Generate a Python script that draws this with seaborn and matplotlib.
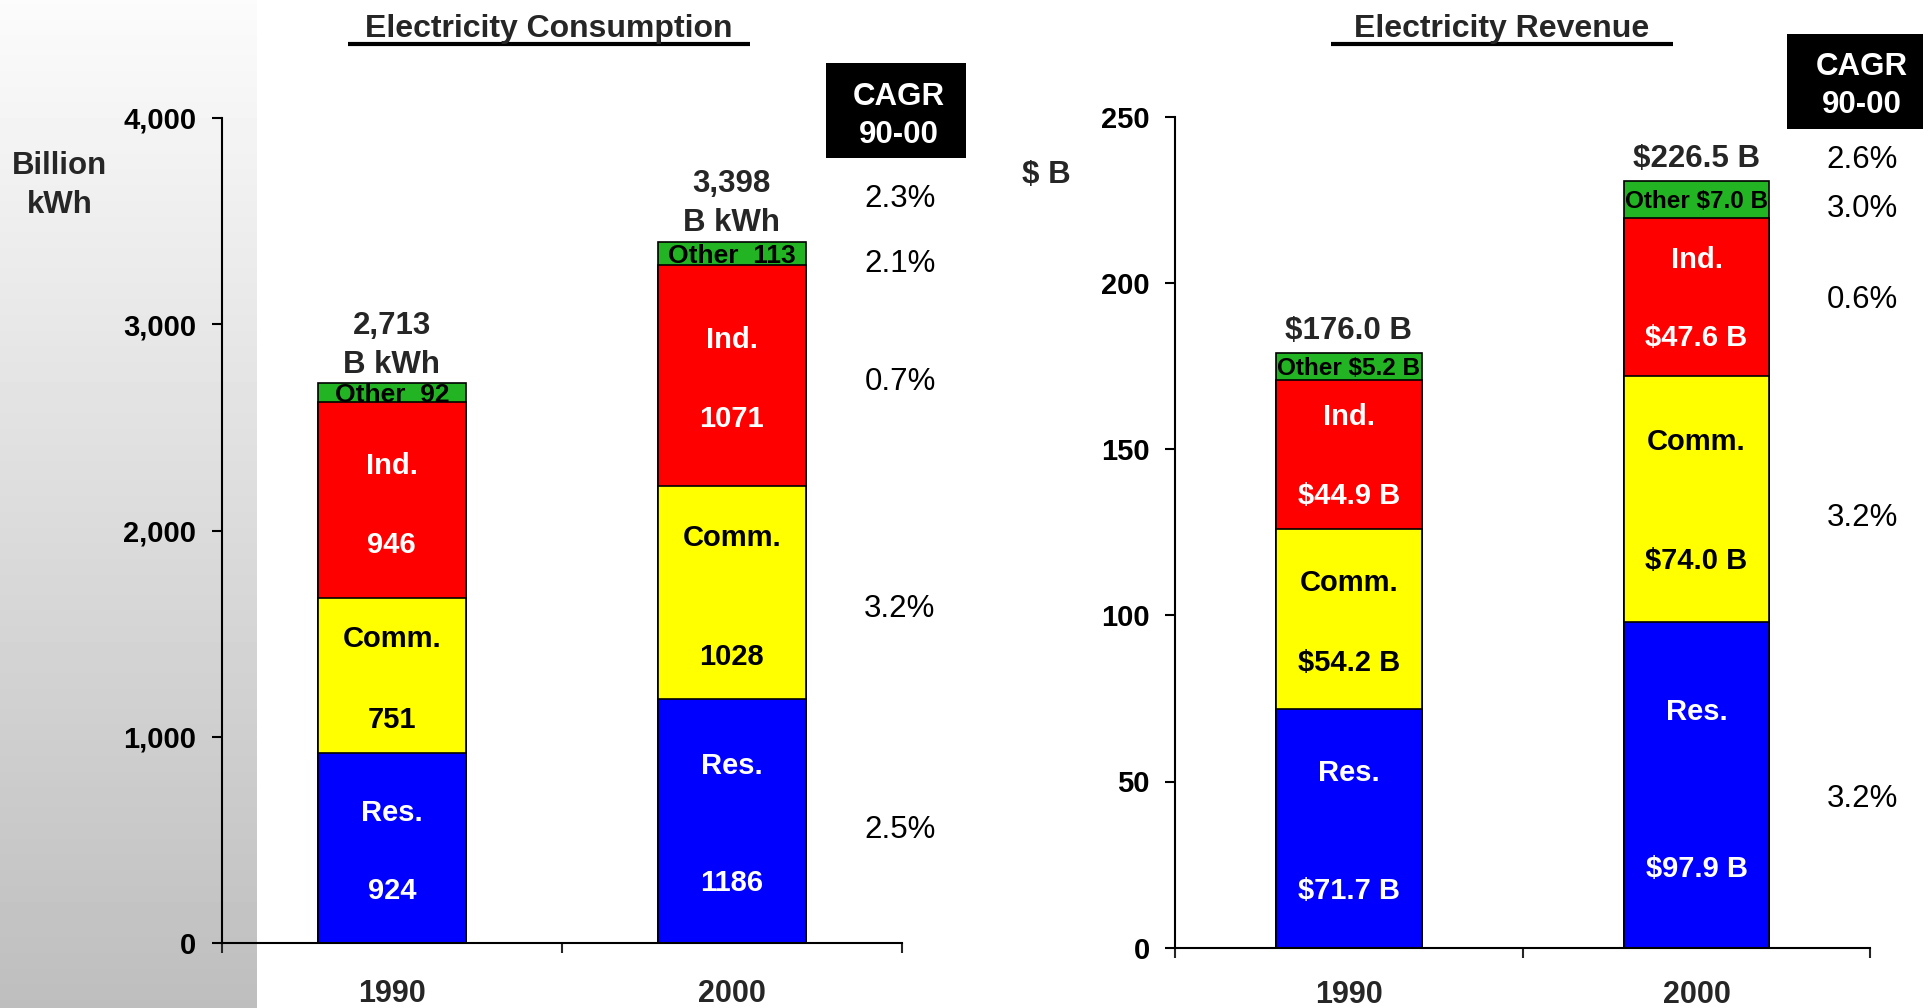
import numpy as np
import pandas as pd
import matplotlib
matplotlib.use("Agg")
import matplotlib.pyplot as plt
import seaborn as sns
from matplotlib.patches import Rectangle
from matplotlib.lines import Line2D
from matplotlib.ticker import FuncFormatter, FixedLocator

# ---------------- data ----------------
years = ["1990", "2000"]
seg_names = ["Res.", "Comm.", "Ind.", "Other"]

cons_res = [924, 1186]
cons_comm = [751, 1028]
cons_ind = [946, 1071]
cons_other = [92, 113]
cons_totals = ["2,713", "3,398"]
cons_cagr = ["2.5%", "3.2%", "0.7%", "2.1%", "2.3%"]
cons_ticks = [0, 1000, 2000, 3000, 4000]

rev_res = [71.7, 97.9]
rev_comm = [54.2, 74.0]
rev_ind = [44.9, 47.6]
rev_other = [5.2, 7.0]          # labelled values
rev_other_bar = [8.2, 11.2]     # height of the green segment as drawn in the picture
rev_totals = ["$176.0 B", "$226.5 B"]
rev_cagr = ["3.2%", "3.2%", "0.6%", "3.0%", "2.6%"]
rev_ticks = [0, 50, 100, 150, 200, 250]

# ---------------- layout (label placement within segments: [year][segment] = (name, value) fractions) ----------------
cons_label_frac = [[(0.70, 0.29), (0.75, 0.23), (0.69, 0.285)],
                   [(0.735, 0.26), (0.77, 0.21), (0.675, 0.32)]]
rev_label_frac = [[(0.746, 0.25), (0.72, 0.275), (0.77, 0.24)],
                  [(0.735, 0.25), (0.745, 0.26), (0.756, 0.26)]]
cons_cagr_y = [565, 1638, 2736, 3309, 3624]
rev_cagr_y = [45.9, 130.2, 196.0, 223.4, 238.0]

# ---------------- style ----------------
sns.set_style("white")
plt.rcParams['font.family'] = ['Liberation Sans', 'DejaVu Sans']

W, H = 1929, 1008
fig = plt.figure(figsize=(W / 100, H / 100), dpi=100, facecolor="white")

def fx(x):
    return x / W

def fy(y):
    return 1 - y / H

colors = ["#0000FF", "#FFFF00", "#FF0000", "#22B422"]
text_colors = ["white", "black", "white", "black"]

# gradient panel on the left
bg = fig.add_axes([0, 0, fx(257), 1], zorder=-5)
grad = np.linspace(0.985, 0.745, 256).reshape(-1, 1)
bg.imshow(grad, cmap="gray", vmin=0, vmax=1, aspect="auto", extent=[0, 1, 0, 1])
bg.set_axis_off()

axL = fig.add_axes([fx(221.7), fy(943.3), fx(902) - fx(221.7), fy(117.7) - fy(943.3)])
axR = fig.add_axes([fx(1175.1), fy(947.7), fx(1870.4) - fx(1175.1), fy(116.7) - fy(947.7)])


def draw_stack(ax, layers, width):
    arr = np.array(layers, dtype=float)
    cum = np.cumsum(arr, axis=0)
    for k in range(len(layers) - 1, -1, -1):
        df = pd.DataFrame({"year": years, "val": cum[k]})
        sns.barplot(data=df, x="year", y="val", order=years, color=colors[k],
                    saturation=1, width=width, edgecolor="black", linewidth=1.2,
                    errorbar=None, ax=ax, zorder=2)
    return arr, cum


def style_axis(ax, ticks, ymax, fmt, xpad):
    ax.set_facecolor("none")
    ax.set_xlim(-0.5, 1.5)
    ax.set_ylim(0, ymax)
    ax.set_xlabel("")
    ax.set_ylabel("")
    for s in ["top", "right"]:
        ax.spines[s].set_visible(False)
    for s in ["left", "bottom"]:
        ax.spines[s].set_linewidth(1.5)
        ax.spines[s].set_color("black")
    ax.set_yticks(ticks)
    ax.yaxis.set_major_formatter(FuncFormatter(fmt))
    ax.tick_params(axis="y", length=7, width=1.5, direction="out", pad=11.3,
                   labelsize=21, colors="black", left=True)
    ax.set_xticks([0, 1])
    ax.set_xticklabels(years)
    ax.xaxis.set_minor_locator(FixedLocator([-0.5, 0.5, 1.5]))
    ax.tick_params(axis="x", which="major", length=0, pad=xpad, labelsize=22)
    ax.tick_params(axis="x", which="minor", length=7, width=1.5, direction="out",
                   bottom=True)
    for lab in ax.get_yticklabels() + ax.get_xticklabels():
        lab.set_fontweight("bold")
    ax.grid(False)


# ---------------- left chart ----------------
arrL, cumL = draw_stack(axL, [cons_res, cons_comm, cons_ind, cons_other], 0.435)
style_axis(axL, cons_ticks, 4000, lambda v, p: f"{v:,.0f}", 25.5)
cons_vals = [cons_res, cons_comm, cons_ind]
for i in range(2):
    for k in range(3):
        bottom = cumL[k][i] - arrL[k][i]
        h = arrL[k][i]
        fn, fv = cons_label_frac[i][k]
        axL.text(i, bottom + fn * h, seg_names[k], ha="center", va="center_baseline",
                 fontsize=21, fontweight="bold", color=text_colors[k], zorder=5)
        axL.text(i, bottom + fv * h, f"{cons_vals[k][i]}", ha="center",
                 va="center_baseline", fontsize=21, fontweight="bold",
                 color=text_colors[k], zorder=5)
    axL.text(i, cumL[3][i] - arrL[3][i] / 2, f"Other  {cons_other[i]}", ha="center",
             va="center_baseline", fontsize=19, fontweight="bold", color="black", zorder=5)
    axL.annotate(cons_totals[i], (i, cumL[3][i]), xytext=(0, 61), textcoords="offset pixels",
                 ha="center", va="center_baseline", fontsize=22.5, fontweight="bold")
    axL.annotate("B kWh", (i, cumL[3][i]), xytext=(0, 22), textcoords="offset pixels",
                 ha="center", va="center_baseline", fontsize=22.5, fontweight="bold")

for lab, yv in zip(cons_cagr, cons_cagr_y):
    axL.text(1.494, yv, lab, ha="center", va="center_baseline", fontsize=22.5,
             color="black", clip_on=False)

# ---------------- right chart ----------------
arrR, cumR = draw_stack(axR, [rev_res, rev_comm, rev_ind, rev_other_bar], 0.418)
style_axis(axR, rev_ticks, 250, lambda v, p: f"{v:.0f}", 23.5)
rev_vals = [rev_res, rev_comm, rev_ind]
for i in range(2):
    for k in range(3):
        bottom = cumR[k][i] - arrR[k][i]
        h = arrR[k][i]
        fn, fv = rev_label_frac[i][k]
        axR.text(i, bottom + fn * h, seg_names[k], ha="center", va="center_baseline",
                 fontsize=21, fontweight="bold", color=text_colors[k], zorder=5)
        axR.text(i, bottom + fv * h, f"${rev_vals[k][i]:.1f} B", ha="center",
                 va="center_baseline", fontsize=21, fontweight="bold",
                 color=text_colors[k], zorder=5)
    axR.text(i, cumR[3][i] - arrR[3][i] / 2, f"Other ${rev_other[i]:.1f} B", ha="center",
             va="center_baseline", fontsize=17.5, fontweight="bold", color="black", zorder=5)
    axR.annotate(rev_totals[i], (i, cumR[3][i]), xytext=(0, 25), textcoords="offset pixels",
                 ha="center", va="center_baseline", fontsize=22.5, fontweight="bold")

for lab, yv in zip(rev_cagr, rev_cagr_y):
    axR.text(1.477, yv, lab, ha="center", va="center_baseline", fontsize=22.5,
             color="black", clip_on=False)

# ---------------- figure-level annotations ----------------
def ftext(x, y, s, **kw):
    fig.text(fx(x), fy(y), s, ha="center", va="center_baseline", **kw)

ftext(548.7, 25, "Electricity Consumption", fontsize=23, fontweight="bold")
fig.add_artist(Line2D([fx(348), fx(749.6)], [fy(43.7), fy(43.7)], transform=fig.transFigure,
                      color="black", lw=3, solid_capstyle="butt"))
ftext(1501.7, 25, "Electricity Revenue", fontsize=23, fontweight="bold")
fig.add_artist(Line2D([fx(1330.8), fx(1672.6)], [fy(43.7), fy(43.7)], transform=fig.transFigure,
                      color="black", lw=3, solid_capstyle="butt"))

ftext(59.4, 163, "Billion", fontsize=22.5, fontweight="bold")
ftext(59.4, 201.7, "kWh", fontsize=22.5, fontweight="bold")
ftext(1046.5, 171.7, "$ B", fontsize=22.5, fontweight="bold")

for (x0, y0, x1, y1, tx, t1, t2) in [(825.5, 63.3, 966, 158.3, 899, 93.3, 131.7),
                                     (1787, 34, 1923, 129.3, 1862, 63.3, 101.7)]:
    fig.add_artist(Rectangle((fx(x0), fy(y1)), fx(x1) - fx(x0), fy(y0) - fy(y1),
                             transform=fig.transFigure, facecolor="black", edgecolor="none"))
    ftext(tx, t1, "CAGR", fontsize=22.5, fontweight="bold", color="white")
    ftext(tx, t2, "90-00", fontsize=22.5, fontweight="bold", color="white")

fig.savefig("out.png", dpi=100, facecolor="white")
